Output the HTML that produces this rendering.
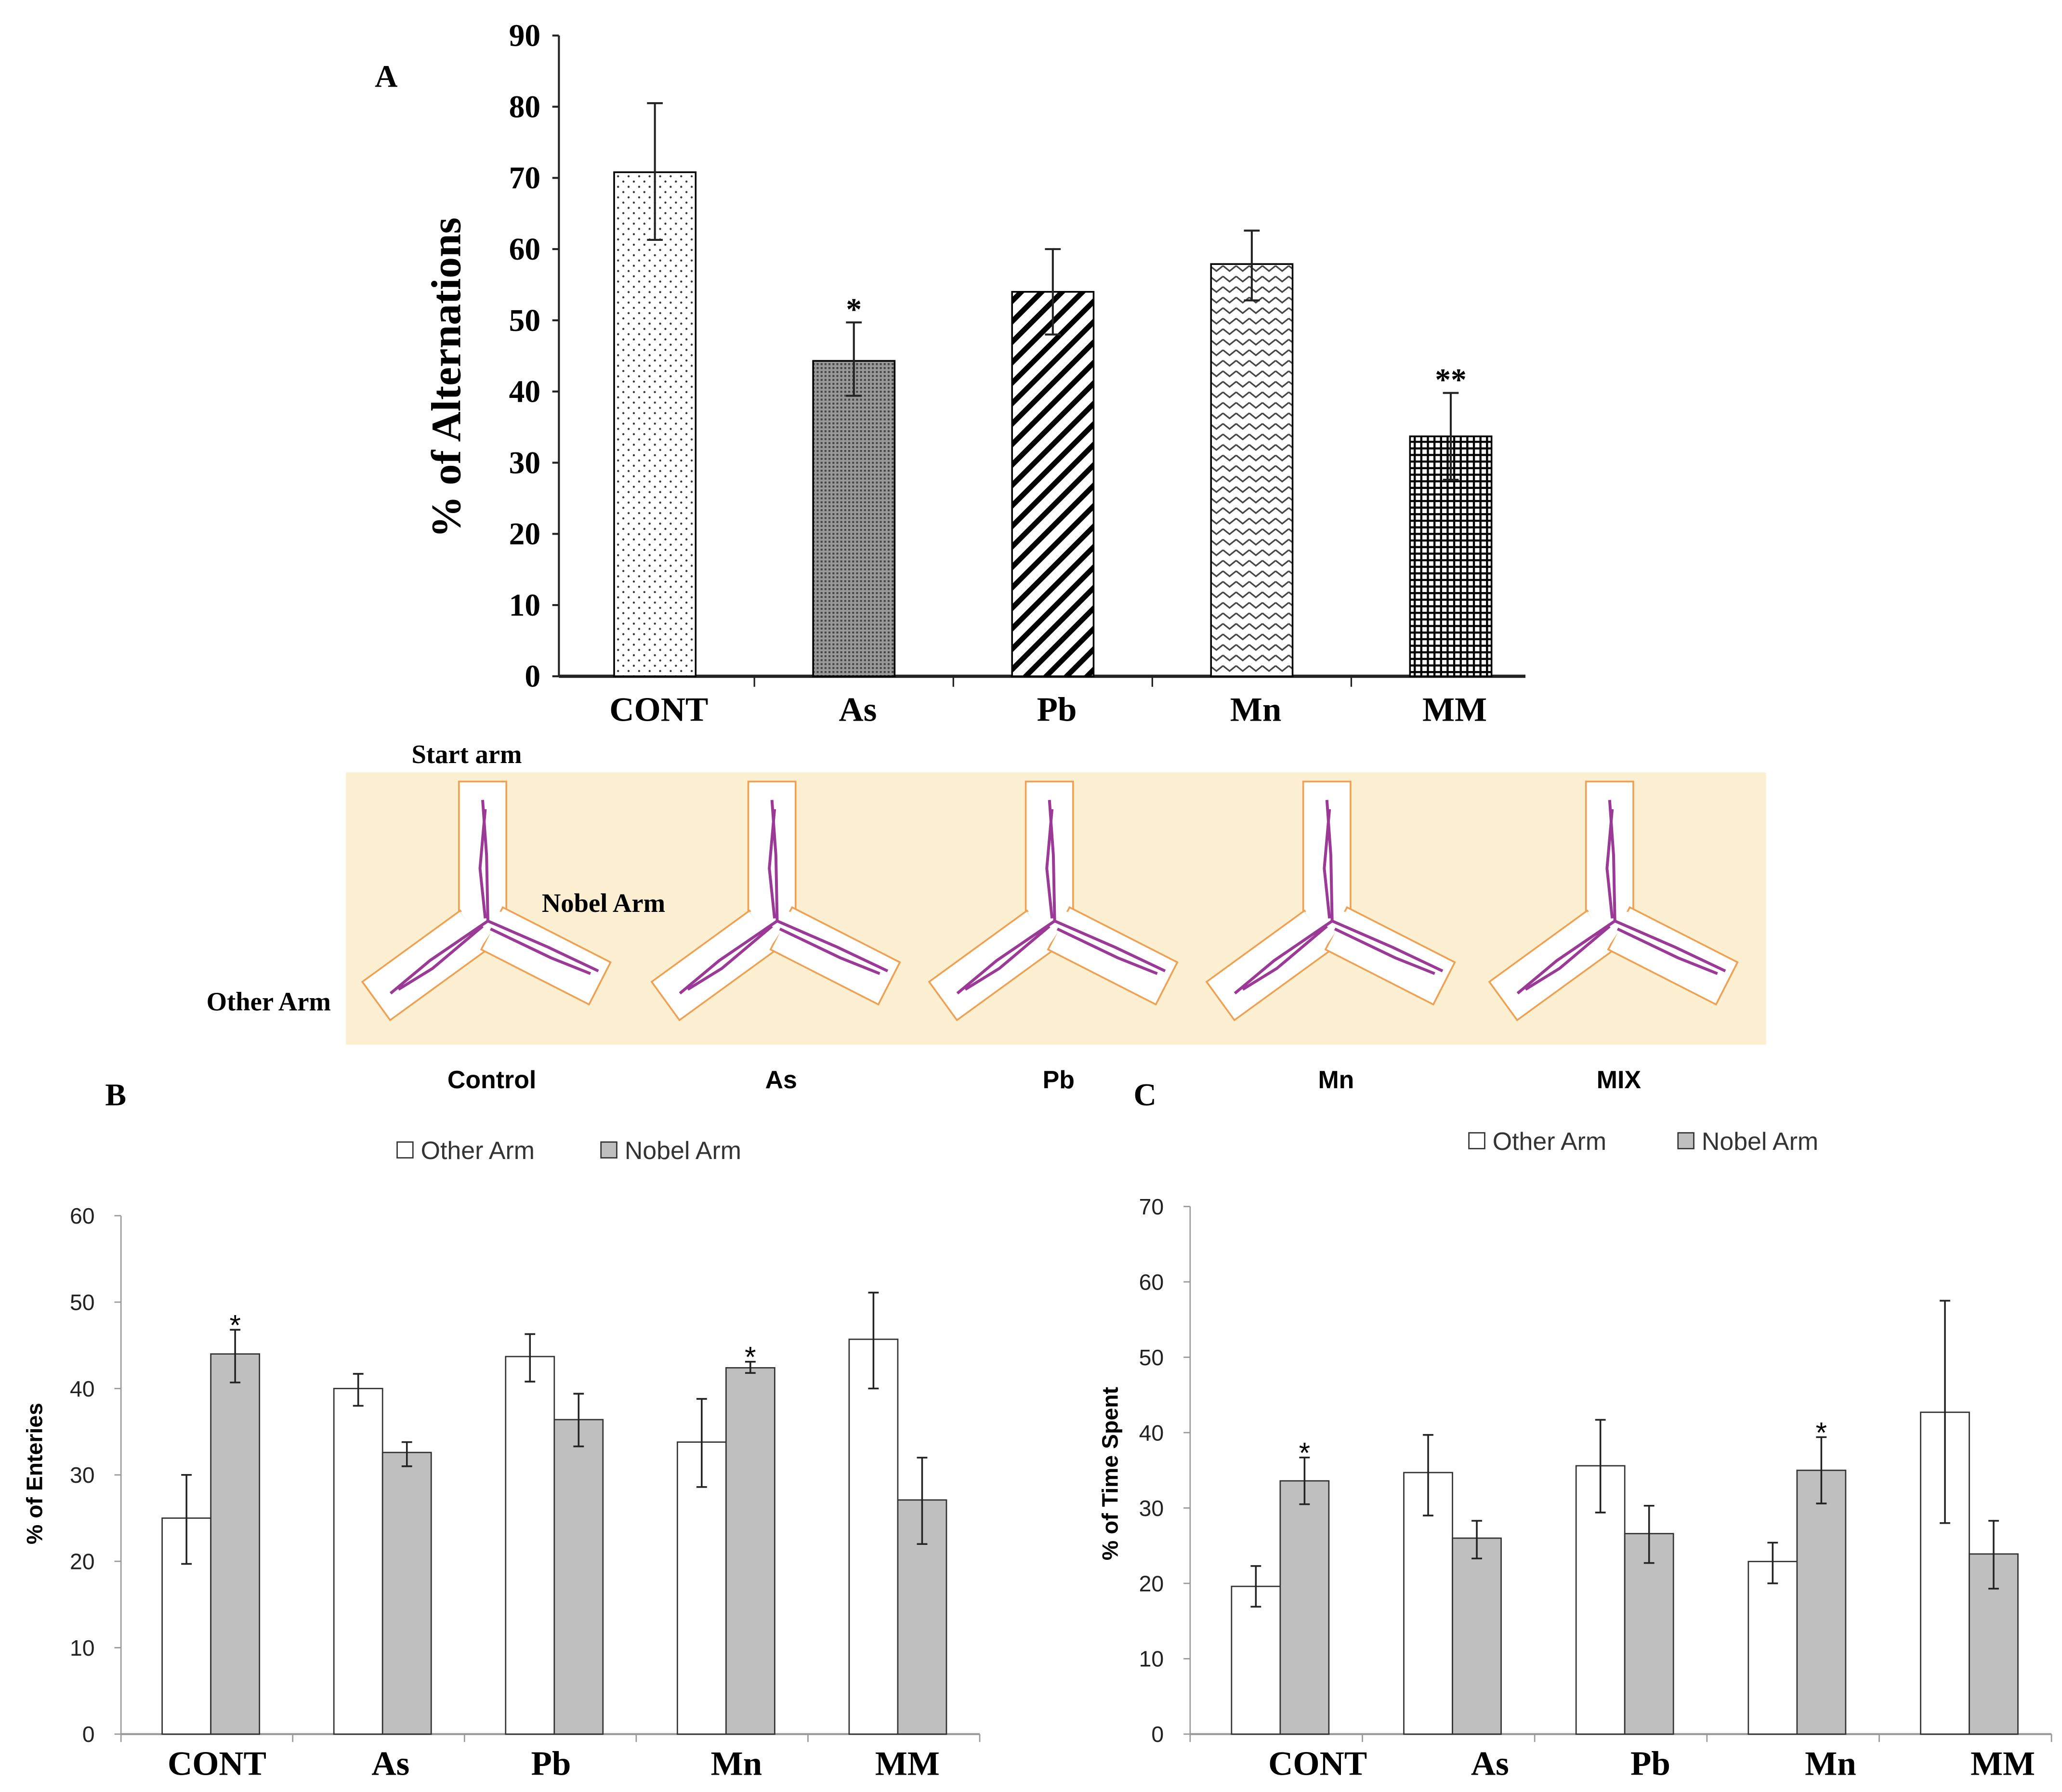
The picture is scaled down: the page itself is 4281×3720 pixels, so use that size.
<!DOCTYPE html>
<html><head><meta charset="utf-8"><style>
html,body{margin:0;padding:0;background:#fff;}
svg{display:block;}
.ser{font-family:"Liberation Serif",serif;font-weight:bold;}
.san{font-family:"Liberation Sans",sans-serif;}
</style></head><body>
<svg id="fig" width="4281" height="3720" viewBox="0 0 1568 1362" preserveAspectRatio="none" xmlns="http://www.w3.org/2000/svg">
<defs>
<pattern id="pDots" width="8" height="8" patternUnits="userSpaceOnUse"><rect width="8" height="8" fill="#fff"/><circle cx="2" cy="2" r="0.8" fill="#333"/><circle cx="6" cy="6" r="0.8" fill="#333"/></pattern>
<pattern id="pGray" width="3" height="3" patternUnits="userSpaceOnUse"><rect width="3" height="3" fill="#999"/><rect width="1.5" height="1.5" fill="#444"/></pattern>
<pattern id="pDiag" width="11" height="11" patternUnits="userSpaceOnUse" patternTransform="rotate(-45)"><rect width="11" height="11" fill="#fff"/><rect width="11" height="4" fill="#000"/></pattern>
<pattern id="pZig" width="10" height="8" patternUnits="userSpaceOnUse"><rect width="10" height="8" fill="#fff"/><polyline points="0,2 5,6 10,2" fill="none" stroke="#444" stroke-width="1.2"/></pattern>
<pattern id="pGrid" width="5" height="5" patternUnits="userSpaceOnUse"><rect width="5" height="5" fill="#fff"/><rect width="5" height="1.6" fill="#000"/><rect width="1.6" height="5" fill="#000"/></pattern>
</defs>
<g id="chartA"></g>
<g id="mazes"></g>
<g id="chartB"></g>
<g id="chartC"></g>
</svg>
<script>
const NS="http://www.w3.org/2000/svg";
const catsA=["CONT","As","Pb","Mn","MM"];
const valsA=[70.8,44.3,54,57.9,33.7];
const errHiA=[80.5,49.7,60,62.6,39.8];
const errLoA=[61.3,39.4,48,52.8,27.6];
const starsA=["","*","","","**"];
const ticksA=[0,10,20,30,40,50,60,70,80,90];
const cats2=["CONT","As","Pb","Mn","MM"];
const otherB=[25,40,43.7,33.8,45.7];
const otherBHi=[30,41.7,46.3,38.8,51.1];
const otherBLo=[19.7,38,40.8,28.6,40];
const nobelB=[44,32.6,36.4,42.4,27.1];
const nobelBHi=[46.8,33.8,39.4,43.1,32];
const nobelBLo=[40.7,31,33.3,41.8,22];
const starsB=["*","","","*",""];
const ticksB=[0,10,20,30,40,50,60];
const otherC=[19.6,34.7,35.6,22.9,42.7];
const otherCHi=[22.3,39.7,41.7,25.4,57.5];
const otherCLo=[16.9,29,29.4,20,28];
const nobelC=[33.6,26,26.6,35,23.9];
const nobelCHi=[36.7,28.3,30.3,39.4,28.3];
const nobelCLo=[30.5,23.3,22.7,30.6,19.3];
const starsC=["*","","","*",""];
const ticksC=[0,10,20,30,40,50,60,70];
const mazeLabels=["Control","As","Pb","Mn","MIX"];

function mk(tag,attrs,parent,text){const e=document.createElementNS(NS,tag);for(const k in attrs)e.setAttribute(k,attrs[k]);if(text!==undefined)e.textContent=text;parent.appendChild(e);return e;}

// ---- Chart A
(function(){
const g=document.getElementById('chartA');
const x0=425,x1=1160,y0=514,yTop=27,vmax=90;
const y=v=>y0-(v/vmax)*(y0-yTop);
const bw=151.3;
const xc=i=>498+bw*i;
const fills=["url(#pDots)","url(#pGray)","url(#pDiag)","url(#pZig)","url(#pGrid)"];
let l=mk('line',{x1:x0,y1:yTop,x2:x0,y2:y0,stroke:'#222','stroke-width':1.5},g);

l=mk('line',{x1:x0,y1:y0,x2:x1,y2:y0,stroke:'#222','stroke-width':2.5},g);

ticksA.forEach(t=>{
 mk('line',{x1:x0-5,y1:y(t),x2:x0,y2:y(t),stroke:'#222','stroke-width':1.5},g);
 const tx=mk('text',{x:x0-14,y:y(t)+8,'text-anchor':'end','font-size':24,class:'ser'},g,String(t));
 
});
for(let i=0;i<catsA.length-1;i++){const tx=xc(i)+bw/2;mk('line',{x1:tx,y1:y0,x2:tx,y2:y0+8,stroke:'#222','stroke-width':1.2},g);}
catsA.forEach((c,i)=>{
 const cx=xc(i);
 const r=mk('rect',{x:cx-31,y:y(valsA[i]),width:62,height:y0-y(valsA[i]),fill:fills[i],stroke:'#000','stroke-width':1.3},g);
 
 const e=mk('path',{d:`M${cx},${y(errHiA[i])}V${y(errLoA[i])}M${cx-6},${y(errHiA[i])}H${cx+6}M${cx-6},${y(errLoA[i])}H${cx+6}`,stroke:'#222','stroke-width':1.5,fill:'none'},g);
 
 if(starsA[i]){const s=mk('text',{x:cx,y:y(errHiA[i])-2,'text-anchor':'middle','font-size':24,class:'ser'},g,starsA[i]);
  }
 const t=mk('text',{x:cx+3,y:548,'text-anchor':'middle','font-size':26,class:'ser'},g,c);
 
});
let t=mk('text',{x:0,y:0,'text-anchor':'middle','font-size':32,class:'ser',transform:`translate(350,287) rotate(-90)`},g,'% of Alternations');

t=mk('text',{x:285,y:66,'font-size':24,class:'ser'},g,'A');

})();

// ---- Mazes
(function(){
const g=document.getElementById('mazes');
const bg=mk('rect',{x:263,y:587,width:1080,height:207,fill:'#fdf0d2'},g);

const centers=[367,587,798,1009,1224];
const jy=690;
centers.forEach((cx,k)=>{
 const mg=mk('g',{},g);
 
 [[0,100],[-126,92],[117,92]].forEach(([a,len])=>{
  mk('rect',{x:cx-18,y:jy+4-len,width:36,height:len,fill:'#fff',stroke:'#f0a050','stroke-width':1.3,transform:`rotate(${a} ${cx} ${jy+12})`},mg);
 });
 mk('polygon',{points:`${cx-17},${jy+3} ${cx+17},${jy+3} ${cx},${jy+28}`,fill:'#fff'},mg);
 const p='#9b3a96';
 mk('path',{d:`M${cx},${jy-82}L${cx+3},${jy-40}L${cx+4},${jy+10}M${cx+2},${jy-75}L${cx-2},${jy-30}L${cx+2},${jy+8}`,stroke:p,'stroke-width':2.2,fill:'none'},mg);
 mk('path',{d:`M${cx+4},${jy+10}L${cx-40},${jy+40}L${cx-70},${jy+65}M${cx},${jy+14}L${cx-38},${jy+46}L${cx-64},${jy+62}`,stroke:p,'stroke-width':2.2,fill:'none'},mg);
 mk('path',{d:`M${cx+4},${jy+10}L${cx+50},${jy+30}L${cx+88},${jy+48}M${cx+6},${jy+16}L${cx+52},${jy+38}L${cx+82},${jy+50}`,stroke:p,'stroke-width':2.2,fill:'none'},mg);
 const t=mk('text',{x:cx+7,y:827,'text-anchor':'middle','font-size':19,class:'san','font-weight':'bold'},g,mazeLabels[k]);
 
});
let t=mk('text',{x:313,y:580,'font-size':20,class:'ser'},g,'Start arm');

t=mk('text',{x:412,y:693,'font-size':20,class:'ser'},g,'Nobel Arm');

t=mk('text',{x:157,y:768,'font-size':20,class:'ser'},g,'Other Arm');

})();

// ---- grouped charts
function grouped(gid,cfg){
const g=document.getElementById(gid);
const {x0,x1,y0,yTop,vmax,ticks,other,oHi,oLo,nobel,nHi,nLo,stars,ytitle,ytx,lab,labx,legy,legx1,legx2,xlabs}=cfg;
const y=v=>y0-(v/vmax)*(y0-yTop);
const bw=(x1-x0)/cats2.length;
let l=mk('line',{x1:x0,y1:yTop,x2:x0,y2:y0,stroke:'#999','stroke-width':1},g);

l=mk('line',{x1:x0,y1:y0,x2:x1,y2:y0,stroke:'#999','stroke-width':1.5},g);

ticks.forEach(t=>{
 mk('line',{x1:x0-5,y1:y(t),x2:x0,y2:y(t),stroke:'#999','stroke-width':1},g);
 const tx=mk('text',{x:x0-20,y:y(t)+6,'text-anchor':'end','font-size':17,class:'san',fill:'#222'},g,String(t));
 
});
for(let i=0;i<=cats2.length;i++){mk('line',{x1:x0+bw*i,y1:y0,x2:x0+bw*i,y2:y0+6,stroke:'#999','stroke-width':1},g);}
cats2.forEach((c,i)=>{
 const cx=x0+bw*(i+0.5)+3;
 const bars=[[other[i],oHi[i],oLo[i],'#fff',cx-37,'other'],[nobel[i],nHi[i],nLo[i],'#bfbfbf',cx,'nobel']];
 bars.forEach(b=>{
  const r=mk('rect',{x:b[4],y:y(b[0]),width:37,height:y0-y(b[0]),fill:b[3],stroke:'#333','stroke-width':1},g);
  
  const m=b[4]+18.5;
  const e=mk('path',{d:`M${m},${y(b[1])}V${y(b[2])}M${m-4},${y(b[1])}H${m+4}M${m-4},${y(b[2])}H${m+4}`,stroke:'#222','stroke-width':1.3,fill:'none'},g);
  
 });
 if(stars[i]){const s=mk('text',{x:cx+18.5,y:y(nHi[i])+4,'text-anchor':'middle','font-size':22,class:'san'},g,stars[i]);
  }
 const t=mk('text',{x:xlabs[i],y:1349,'text-anchor':'middle','font-size':26,class:'ser'},g,c);
 
});
let t=mk('text',{x:0,y:0,'text-anchor':'middle','font-size':17,class:'san','font-weight':'bold',transform:`translate(${ytx},1120) rotate(-90)`},g,ytitle);

t=mk('text',{x:labx,y:840,'font-size':24,class:'ser'},g,lab);

const lg=mk('g',{},g);
let r=mk('rect',{x:legx1,y:legy-13,width:12,height:12,fill:'#fff',stroke:'#333'},lg);

t=mk('text',{x:legx1+18,y:legy,'font-size':19,class:'san',fill:'#333'},lg,'Other Arm');

r=mk('rect',{x:legx2,y:legy-13,width:12,height:12,fill:'#bfbfbf',stroke:'#333'},lg);

t=mk('text',{x:legx2+18,y:legy,'font-size':19,class:'san',fill:'#333'},lg,'Nobel Arm');

}
grouped('chartB',{x0:92,x1:745,y0:1318,yTop:924,vmax:60,ticks:ticksB,other:otherB,oHi:otherBHi,oLo:otherBLo,nobel:nobelB,nHi:nobelBHi,nLo:nobelBLo,stars:starsB,ytitle:'% of Enteries',ytx:32,lab:'B',labx:80,legy:881,legx1:302,legx2:457,xlabs:[165,297,419,560,690]});
grouped('chartC',{x0:905,x1:1560,y0:1318,yTop:917,vmax:70,ticks:ticksC,other:otherC,oHi:otherCHi,oLo:otherCLo,nobel:nobelC,nHi:nobelCHi,nLo:nobelCLo,stars:starsC,ytitle:'% of Time Spent',ytx:850,lab:'C',labx:862,legy:874,legx1:1117,legx2:1276,xlabs:[1002,1133,1255,1392,1523]});
</script>
</body></html>
